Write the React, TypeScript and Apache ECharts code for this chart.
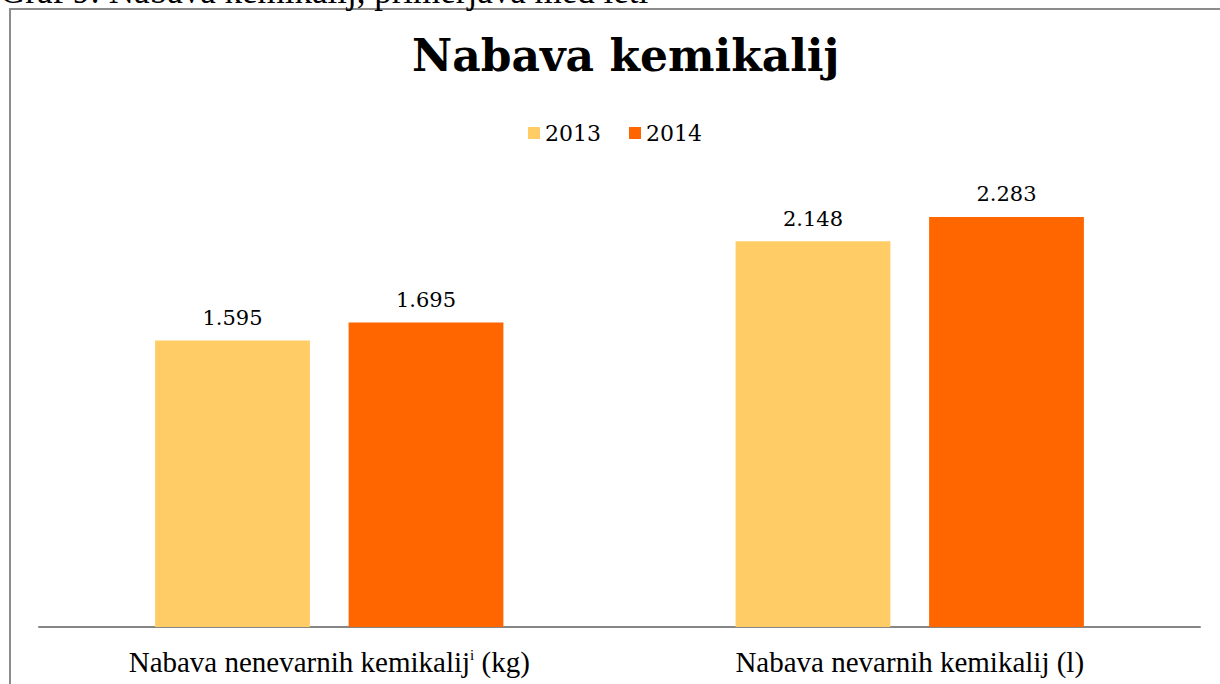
import React, { useEffect, useRef } from "react";
import * as echarts from "echarts";

const categories = ["Nabava nenevarnih kemikalij", "Nabava nevarnih kemikalij"];
const categoryUnits = [" (kg)", " (l)"];
const categorySup = ["i", ""];
const seriesNames = ["2013", "2014"];
const values2013 = [1595, 2148];
const values2014 = [1695, 2283];
const colors = ["#FFCC66", "#FF6600"];

const fmt = (v: number) => String(v).replace(/\B(?=(\d{3})+(?!\d))/g, ".");

export default function App() {
  const ref = useRef<HTMLDivElement>(null);
  useEffect(() => {
    const chart = echarts.init(ref.current!, null, { renderer: "svg" });
    const labelFont = "'DejaVu Serif', Georgia, serif";
    const timesFont = "'Liberation Serif', 'Times New Roman', serif";
    const barLabel = {
      show: true,
      position: "top",
      distance: 12,
      formatter: (p: any) => fmt(p.value),
      fontFamily: labelFont,
      fontSize: 21,
      color: "#000",
    };
    chart.setOption({
      animation: false,
      backgroundColor: "#fff",
      title: {
        text: "Nabava kemikalij",
        left: 407,
        top: 28,
        textStyle: { fontFamily: labelFont, fontWeight: "bold", fontSize: 44, color: "#000" },
      },
      legend: {
        data: seriesNames,
        top: 117,
        left: 523,
        itemWidth: 12,
        itemHeight: 12,
        itemGap: 28,
        icon: "rect",
        textStyle: { fontFamily: labelFont, fontSize: 22, color: "#000" },
      },
      graphic: [
        {
          type: "rect",
          shape: { x: 10, y: 9, width: 1240, height: 720 },
          style: { fill: "none", stroke: "#8c8c8c", lineWidth: 2 },
          silent: true,
        },
        {
          type: "text",
          x: 0,
          y: 9,
          style: {
            text: "Graf 9: Nabava kemikalij, primerjava med leti",
            font: "35px 'Liberation Serif', 'Times New Roman', serif",
            fill: "#000",
            textVerticalAlign: "bottom",
          },
        },
      ],
      grid: { left: 39, right: 20, top: 178, bottom: 57 },
      xAxis: {
        type: "category",
        data: categories,
        axisTick: { show: false },
        axisLine: { lineStyle: { color: "#868686", width: 2 } },
        axisLabel: {
          interval: 0,
          margin: 20,
          formatter: (v: string, i: number) =>
            categorySup[i] ? `${v}{sup|${categorySup[i]}}${categoryUnits[i]}` : `${v}${categoryUnits[i]}`,
          fontFamily: timesFont,
          fontSize: 29,
          color: "#000",
          rich: {
            sup: {
              fontFamily: timesFont,
              fontSize: 15,
              verticalAlign: "top",
              padding: [0, 0, 12, 0],
              color: "#000",
            },
          },
        },
      },
      yAxis: {
        type: "value",
        min: 0,
        max: 2500,
        show: false,
        splitLine: { show: false },
      },
      series: [
        {
          name: seriesNames[0],
          type: "bar",
          data: values2013,
          itemStyle: { color: colors[0] },
          barGap: "25%",
          barCategoryGap: "40%",
          label: barLabel,
        },
        {
          name: seriesNames[1],
          type: "bar",
          data: values2014,
          itemStyle: { color: colors[1] },
          barGap: "25%",
          barCategoryGap: "40%",
          label: barLabel,
        },
      ],
    });
    return () => chart.dispose();
  }, []);
  return (
    <div
      ref={ref}
      style={{ position: "absolute", left: 0, top: 0, width: 1220, height: 684 }}
    />
  );
}
